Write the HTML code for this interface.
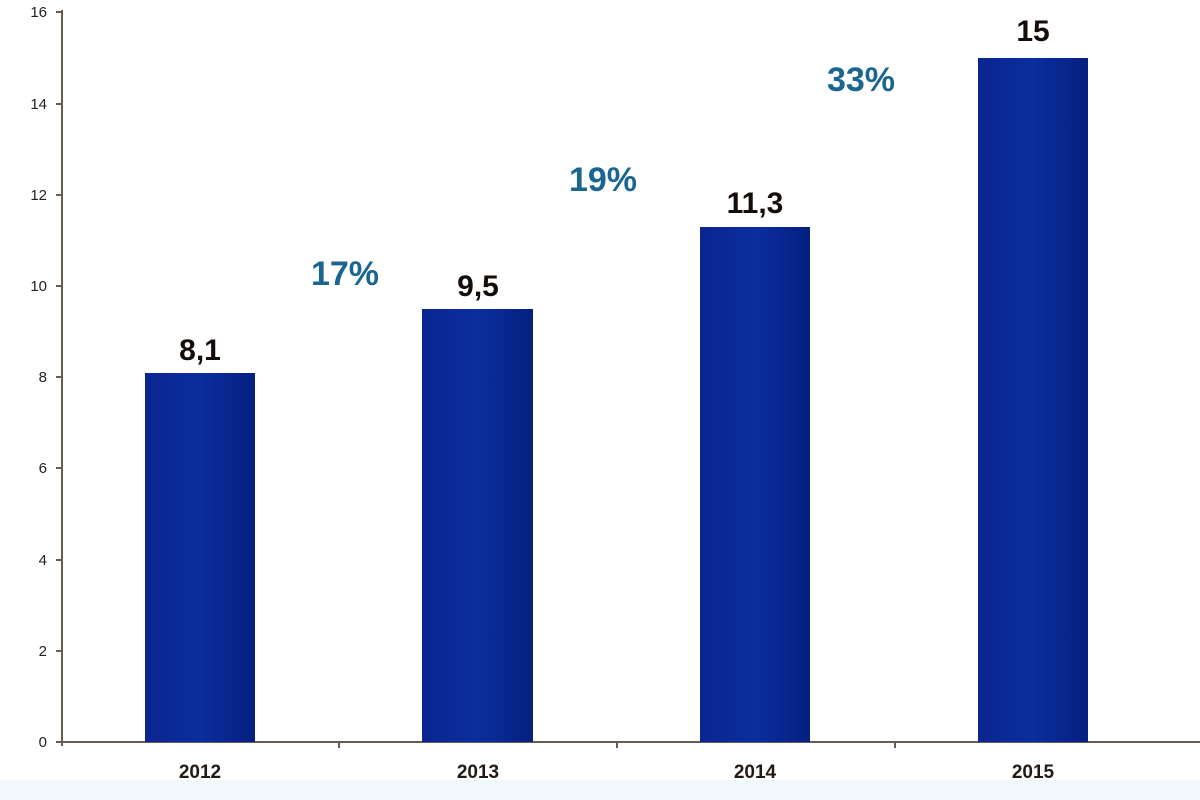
<!DOCTYPE html>
<html><head><style>body{margin:0;background:#fff}svg{display:block}</style></head><body>
<svg width="1200" height="800" xmlns="http://www.w3.org/2000/svg" font-family="Liberation Sans, Arial, sans-serif">
<defs><linearGradient id="g" x1="0" x2="1"><stop offset="0" stop-color="#0a2590"/><stop offset="0.5" stop-color="#0a2e9e"/><stop offset="1" stop-color="#061f80"/></linearGradient></defs>
<rect x="0" y="780" width="1200" height="20" fill="#f0f8fc"/>
<g stroke="#6b5a50" stroke-width="2">
<line x1="62" y1="10" x2="62" y2="746"/>
<line x1="56" y1="742" x2="1200" y2="742"/>
<line x1="56" y1="12" x2="62" y2="12"/><line x1="56" y1="104" x2="62" y2="104"/><line x1="56" y1="195" x2="62" y2="195"/><line x1="56" y1="286" x2="62" y2="286"/><line x1="56" y1="377" x2="62" y2="377"/><line x1="56" y1="468" x2="62" y2="468"/><line x1="56" y1="560" x2="62" y2="560"/><line x1="56" y1="651" x2="62" y2="651"/>
<line x1="339" y1="742" x2="339" y2="748"/><line x1="617" y1="742" x2="617" y2="748"/><line x1="895" y1="742" x2="895" y2="748"/>
</g>
<g font-size="15" text-anchor="end" fill="#222">
<text x="47" y="17">16</text><text x="47" y="109">14</text><text x="47" y="200">12</text><text x="47" y="291">10</text><text x="47" y="382">8</text><text x="47" y="473">6</text><text x="47" y="565">4</text><text x="47" y="656">2</text><text x="47" y="747">0</text>
</g>
<rect x="145" y="373" width="110" height="369" fill="url(#g)"/>
<rect x="422" y="309" width="111" height="433" fill="url(#g)"/>
<rect x="700" y="227" width="110" height="515" fill="url(#g)"/>
<rect x="978" y="58" width="110" height="684" fill="url(#g)"/>
<g font-size="19" font-weight="bold" text-anchor="middle" fill="#221a15">
<text x="200" y="778">2012</text><text x="478" y="778">2013</text><text x="755" y="778">2014</text><text x="1033" y="778">2015</text>
</g>
<g font-size="30" font-weight="bold" text-anchor="middle" fill="#150d0a">
<text x="200" y="360">8,1</text><text x="478" y="296">9,5</text><text x="755" y="213">11,3</text><text x="1033" y="41">15</text>
</g>
<g font-size="34" font-weight="bold" text-anchor="middle" fill="#1a6690">
<text x="345" y="285">17%</text><text x="603" y="191">19%</text><text x="861" y="91">33%</text>
</g>
</svg>
</body></html>
